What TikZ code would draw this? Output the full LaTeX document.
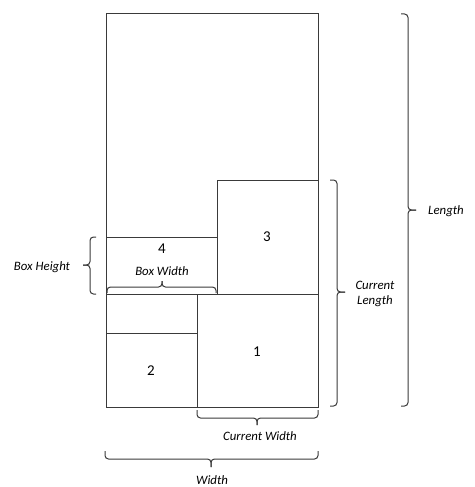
\documentclass[tikz,border=0pt]{standalone}
\usepackage{fontspec}
\setmainfont{Carlito}
\definecolor{ink}{HTML}{3A3A3A}
\begin{document}
\begin{tikzpicture}[x=1pt,y=-1pt,
  box/.style={draw=ink,line width=1pt},
  brk/.style={draw=ink,line width=1pt,rounded corners=3.5pt},
  lbl/.style={font=\fontsize{12.8}{14.5}\selectfont\itshape,text=black,inner sep=0pt},
  num/.style={font=\fontsize{15}{17}\selectfont,text=black,inner sep=0pt}]
\useasboundingbox (0,0) rectangle (474,487);
% outer container
\coordinate (TL) at (106,14);
\coordinate (BR) at (318,407);
\draw[box] (TL) rectangle (BR);
% box 3
\draw[box] (217,180) rectangle (318,294);
% box 4
\draw[box] (106,237) rectangle (217,294);
% box 1
\draw[box] (197,294) rectangle (318,407);
% empty slot above box 2
\draw[box] (106,294) rectangle (197,333);
% box 2
\draw[box] (106,333) rectangle (197,407);
% numbers
\node[num] (n4) at (162,249) {4};
\node[num] (n3) at (267,237) {3};
\node[num] (n1) at (257,352) {1};
\node[num] (n2) at (151,371) {2};
% brace: Box Height (tip left)
\coordinate (bhT) at (96,237); \coordinate (bhB) at (96,294); \coordinate (bhM) at (83,265);
\draw[brk] (bhT) -- (90,237) -- (90,265) -- (bhM);
\draw[brk] (bhM) -- (90,265) -- (90,294) -- (bhB);
% brace: Box Width (tip up)
\coordinate (bwL) at (107,293); \coordinate (bwR) at (216,293); \coordinate (bwM) at (162,281);
\draw[brk] (bwL) -- (107,287) -- (162,287) -- (bwM);
\draw[brk] (bwM) -- (162,287) -- (216,287) -- (bwR);
% brace: Current Length (tip right)
\coordinate (clT) at (330,180); \coordinate (clB) at (330,406); \coordinate (clM) at (345,292);
\draw[brk] (clT) -- (337,180) -- (337,292) -- (clM);
\draw[brk] (clM) -- (337,292) -- (337,406) -- (clB);
% brace: Length (tip right)
\coordinate (lT) at (401,14); \coordinate (lB) at (401,406); \coordinate (lM) at (416,210);
\draw[brk] (lT) -- (408,14) -- (408,210) -- (lM);
\draw[brk] (lM) -- (408,210) -- (408,406) -- (lB);
% brace: Current Width (tip down)
\coordinate (cwL) at (197,410); \coordinate (cwR) at (318,410); \coordinate (cwM) at (257,425);
\draw[brk] (cwL) -- (197,418) -- (257,418) -- (cwM);
\draw[brk] (cwM) -- (257,418) -- (318,418) -- (cwR);
% brace: Width (tip down)
\coordinate (wL) at (105,451); \coordinate (wR) at (318,451); \coordinate (wM) at (211,467);
\draw[brk] (wL) -- (105,459) -- (211,459) -- (wM);
\draw[brk] (wM) -- (211,459) -- (318,459) -- (wR);
% labels
\node[lbl] (tbh) at (42,267) {Box Height};
\node[lbl] (tbw) at (162,271) {Box Width};
\node[lbl,align=center] (tcl) at (375,294) {Current\\Length};
\node[lbl] (tl) at (446,211) {Length};
\node[lbl] (tcw) at (260,436) {Current Width};
\node[lbl] (tw) at (212,480) {Width};
\end{tikzpicture}
\end{document}
